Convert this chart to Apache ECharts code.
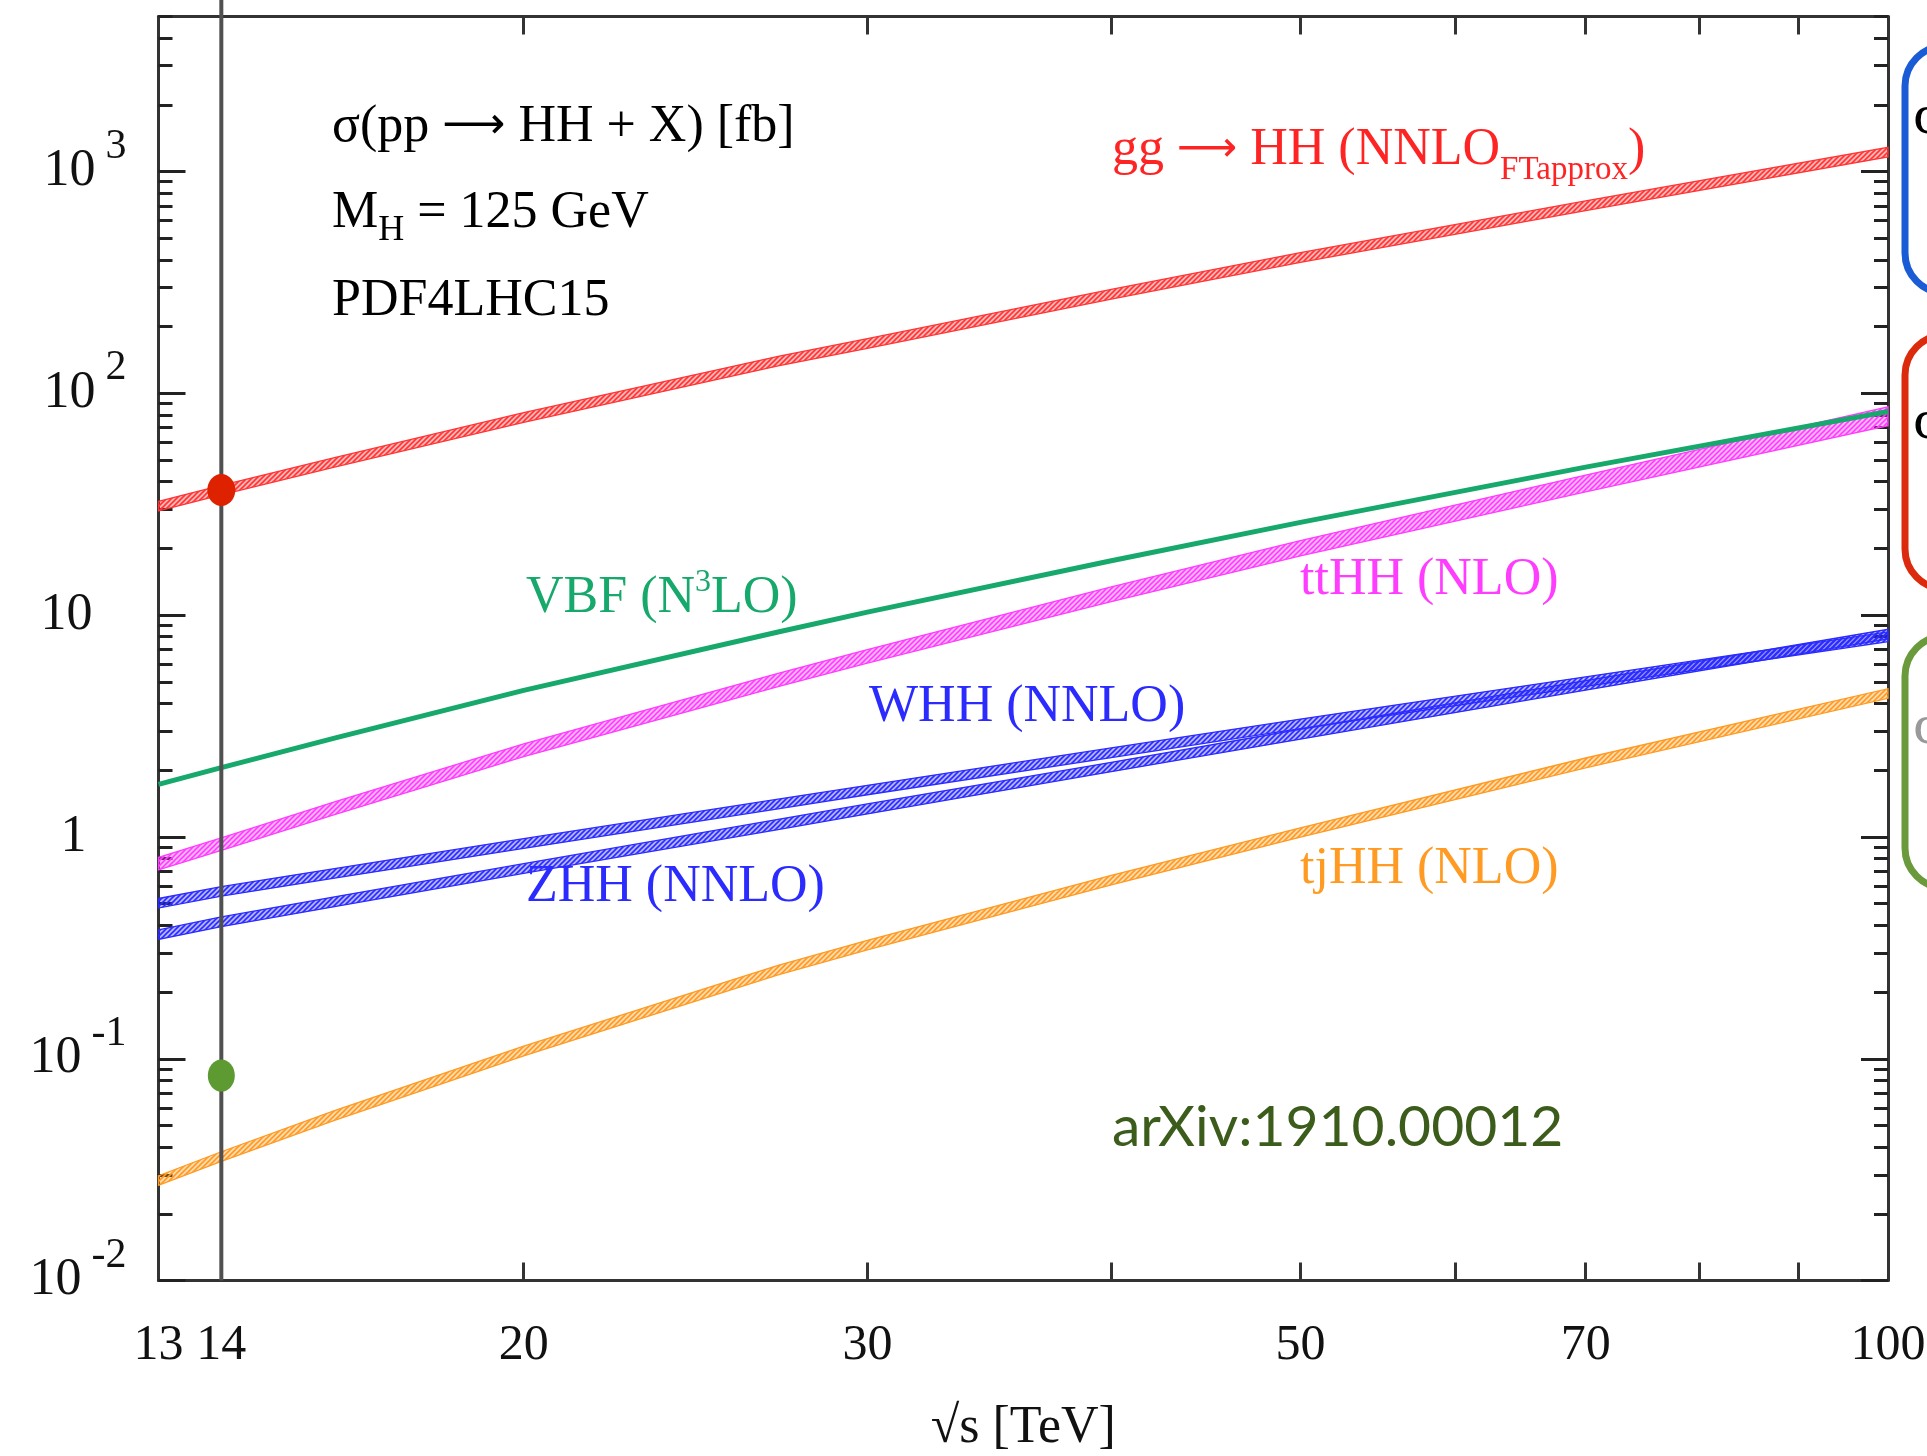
<!DOCTYPE html>
<html><head><meta charset="utf-8">
<script src="https://cdn.jsdelivr.net/npm/echarts@6/dist/echarts.min.js"></script>
<style>html,body{margin:0;padding:0;background:#fff}#c{width:1927px;height:1456px}</style>
</head><body><div id="c"></div>
<script>
// ---- data (sqrt(s) in TeV, cross sections in fb) ----
const energies = [13, 14, 16, 20, 27, 30, 40, 50, 70, 100];
const ggHH    = [31.05, 36.69, 48.9, 77.9, 139.9, 168, 280, 410, 702, 1224];
const ggHHUp  = [32.6, 38.5, 51.3, 81.8, 146.9, 176.4, 294, 430.5, 737, 1285];
const ggHHDn  = [29.5, 34.9, 46.5, 74.0, 132.9, 159.6, 266, 389.5, 667, 1163];
const vbfHH   = [1.726, 2.055, 2.79, 4.58, 8.40, 10.32, 17.6, 26.2, 46.5, 82.8];
const ttHHUp  = [0.81, 0.99, 1.44, 2.63, 5.47, 7.0, 13.4, 21.7, 42.8, 87.0];
const ttHHDn  = [0.71, 0.87, 1.26, 2.30, 4.76, 6.08, 11.5, 18.5, 36.0, 71.5];
const whhUp   = [0.528, 0.597, 0.720, 0.982, 1.48, 1.71, 2.52, 3.40, 5.27, 8.40];
const whhDn   = [0.478, 0.541, 0.652, 0.888, 1.34, 1.55, 2.28, 3.08, 4.77, 7.60];
const zhhUp   = [0.381, 0.436, 0.537, 0.758, 1.20, 1.41, 2.17, 3.06, 5.07, 8.64];
const zhhDn   = [0.345, 0.394, 0.485, 0.686, 1.08, 1.27, 1.97, 2.76, 4.59, 7.82];
const tjHHUp  = [0.0297, 0.0381, 0.0584, 0.114, 0.264, 0.342, 0.672, 1.10, 2.27, 4.66];
const tjHHDn  = [0.0269, 0.0345, 0.0528, 0.103, 0.239, 0.310, 0.608, 0.998, 2.05, 4.22];

const markedEnergy = 14;
const redPoint   = [14, 36.69];
const greenPoint = [14, 0.084];
const vLineTop   = 6000;

const xMin = 13, xMax = 100, yMin = 0.01, yMax = 5000;
const xLabelValues = [13, 14, 20, 30, 50, 70, 100];
const xTickValues  = [20, 30, 40, 50, 60, 70, 80, 90];
const yMajorValues = [0.01, 0.1, 1, 10, 100, 1000];
const yMinorValues = [0.02,0.03,0.04,0.05,0.06,0.07,0.08,0.09,
                      0.2,0.3,0.4,0.5,0.6,0.7,0.8,0.9,
                      2,3,4,5,6,7,8,9,
                      20,30,40,50,60,70,80,90,
                      200,300,400,500,600,700,800,900,
                      2000,3000,4000,5000];

// ---- styles ----
const SERIF = '"Liberation Serif", "Times New Roman", serif';
const ARROWF = '"DejaVu Sans", sans-serif';
const C_RED = '#ff3434', C_GREEN = '#17a86b', C_MAG = '#ff3dff', C_BLUE = '#2b2bff', C_ORANGE = '#ff9a22';
const AX = '#333';
const FS = 52;

function hatch(color) {
  const c = document.createElement('canvas');
  c.width = 5; c.height = 5;
  const g = c.getContext('2d');
  g.fillStyle = color; g.globalAlpha = 0.35; g.fillRect(0, 0, 5, 5);
  g.globalAlpha = 1; g.strokeStyle = color; g.lineWidth = 1.6;
  g.beginPath();
  g.moveTo(0, 5); g.lineTo(5, 0);
  g.moveTo(-2.5, 2.5); g.lineTo(2.5, -2.5);
  g.moveTo(2.5, 7.5); g.lineTo(7.5, 2.5);
  g.stroke();
  return { image: c, repeat: 'repeat' };
}

function band(name, up, dn, color) {
  const fill = hatch(color);
  return {
    type: 'custom', name, xAxisIndex: 0, yAxisIndex: 0, z: 2,
    data: [[energies[0], up[0]]],
    renderItem: (params, api) => {
      const pts = [];
      for (let i = 0; i < energies.length; i++) pts.push(api.coord([energies[i], up[i]]));
      for (let i = energies.length - 1; i >= 0; i--) pts.push(api.coord([energies[i], dn[i]]));
      return { type: 'polygon', shape: { points: pts }, style: { fill: fill, stroke: color, lineWidth: 1.3 } };
    }
  };
}

function xAx(pos, labels) {
  return {
    type: 'log', logBase: 10, min: xMin, max: xMax, position: pos,
    axisLine: { show: true, onZero: false, lineStyle: { color: AX, width: 3 } },
    axisTick: { show: true, inside: true, length: 18, customValues: xTickValues, lineStyle: { color: AX, width: 3 } },
    minorTick: { show: false }, splitLine: { show: false },
    axisLabel: labels ? {
      show: true, customValues: xLabelValues, margin: 40,
      fontFamily: SERIF, fontSize: 50, color: '#111',
      formatter: v => String(Math.round(v))
    } : { show: false },
    name: labels ? '√s [TeV]' : '', nameLocation: 'middle', nameGap: 122,
    nameTextStyle: { fontFamily: SERIF, fontSize: 52, color: '#111' }
  };
}

function yAx(pos, major, labels) {
  return {
    type: 'log', logBase: 10, min: yMin, max: yMax, position: pos,
    axisLine: { show: major, onZero: false, lineStyle: { color: AX, width: 3 } },
    axisTick: { show: true, inside: true, length: major ? 27 : 14,
      customValues: major ? yMajorValues : yMinorValues, lineStyle: { color: '#222', width: 3 } },
    minorTick: { show: false }, splitLine: { show: false },
    axisLabel: labels ? {
      show: true, customValues: yMajorValues, margin: 32,
      formatter: v => {
        const e = Math.round(Math.log10(v));
        if (e === 0) return '{b|1}{q| }';
        if (e === 1) return '{b|10}{p| }';
        return '{b|10}{e|' + e + '}';
      },
      rich: {
        b: { fontFamily: SERIF, fontSize: 52, color: '#111', lineHeight: 60 },
        e: { fontFamily: SERIF, fontSize: 42, color: '#111', padding: [0, 0, 50, 10] },
        p: { width: 34, fontSize: 10 },
        q: { width: 40, fontSize: 10 }
      }
    } : { show: false }
  };
}

function txt(x, y, text, color, size, rich, family) {
  return {
    type: 'text', x: x, y: y, z: 100,
    style: {
      text: text, fill: color, fontFamily: family || SERIF, fontSize: size || FS,
      align: 'left', verticalAlign: 'middle', rich: rich || undefined
    }
  };
}

const chart = echarts.init(document.getElementById('c'), null, { renderer: 'canvas' });
chart.setOption({
  backgroundColor: '#ffffff',
  animation: false,
  grid: { left: 158.5, right: 39, top: 16.5, bottom: 175.4, containLabel: false, outerBoundsMode: 'none' },
  xAxis: [xAx('bottom', true), xAx('top', false)],
  yAxis: [yAx('left', true, true), yAx('left', false, false), yAx('right', true, false), yAx('right', false, false)],
  series: [
    band('gg→HH', ggHHUp, ggHHDn, C_RED),
    band('ttHH', ttHHUp, ttHHDn, C_MAG),
    band('WHH', whhUp, whhDn, C_BLUE),
    band('ZHH', zhhUp, zhhDn, C_BLUE),
    band('tjHH', tjHHUp, tjHHDn, C_ORANGE),
    {
      type: 'line', name: 'VBF', xAxisIndex: 0, yAxisIndex: 0, z: 3,
      data: energies.map((e, i) => [e, vbfHH[i]]),
      symbol: 'none', lineStyle: { color: C_GREEN, width: 5 }
    },
    {
      type: 'custom', name: 'marker line', xAxisIndex: 0, yAxisIndex: 0, clip: false, z: 5,
      data: [[markedEnergy, vLineTop]],
      renderItem: (p, api) => {
        const a = api.coord([markedEnergy, vLineTop]);
        const b = api.coord([markedEnergy, yMin]);
        return { type: 'line', shape: { x1: a[0], y1: a[1], x2: b[0], y2: b[1] }, style: { stroke: '#505050', lineWidth: 4 } };
      }
    },
    {
      type: 'scatter', xAxisIndex: 0, yAxisIndex: 0, z: 6,
      data: [redPoint], symbol: 'circle', symbolSize: [28, 32],
      itemStyle: { color: '#de2200', opacity: 1 }
    },
    {
      type: 'scatter', xAxisIndex: 0, yAxisIndex: 0, z: 6,
      data: [greenPoint], symbol: 'circle', symbolSize: [27, 32],
      itemStyle: { color: '#5e9a32', opacity: 1 }
    }
  ],
  graphic: [
    txt(332, 127, '{m|σ(pp }{a|⟶}{m| HH + X) [fb]}', '#000', FS, {
      m: { fontFamily: SERIF, fontSize: FS, fill: '#000', lineHeight: 60 },
      a: { fontFamily: ARROWF, fontSize: 44, fill: '#000' }
    }),
    txt(332, 213, '{m|M}{s|H}{m| = 125 GeV}', '#000', FS, {
      m: { fontFamily: SERIF, fontSize: FS, fill: '#000', lineHeight: 60 },
      s: { fontFamily: SERIF, fontSize: 36, fill: '#000', padding: [36, 0, 0, 0] }
    }),
    txt(332, 301, 'PDF4LHC15', '#000'),
    txt(1112, 150, '{m|gg }{a|⟶}{m| HH (NNLO}{s|FTapprox}{m|)}', C_RED, FS, {
      m: { fontFamily: SERIF, fontSize: FS, fill: '#ff2424', lineHeight: 60 },
      a: { fontFamily: ARROWF, fontSize: 42, fill: '#ff2424' },
      s: { fontFamily: SERIF, fontSize: 33, fill: '#ff2424', padding: [40, 0, 0, 0] }
    }),
    txt(526, 598, '{m|VBF (N}{p|3}{m|LO)}', C_GREEN, FS, {
      m: { fontFamily: SERIF, fontSize: FS, fill: C_GREEN, lineHeight: 60 },
      p: { fontFamily: SERIF, fontSize: 32, fill: C_GREEN, padding: [0, 0, 30, 0] }
    }),
    txt(1300, 580, 'ttHH (NLO)', C_MAG),
    txt(869, 707, 'WHH (NNLO)', C_BLUE),
    txt(526, 887, 'ZHH (NNLO)', C_BLUE),
    txt(1300, 869, 'tjHH (NLO)', C_ORANGE),
    txt(1112, 1128, 'arXiv:1910.00012', '#3c5c1c', 57, null, 'Lato, "Open Sans", sans-serif'),
    { type: 'rect', z: 50, shape: { x: 1905, y: 46, width: 200, height: 247, r: 40 }, style: { fill: 'none', stroke: '#1a5bd6', lineWidth: 7 } },
    { type: 'rect', z: 50, shape: { x: 1905, y: 335, width: 200, height: 254, r: 40 }, style: { fill: 'none', stroke: '#dc2a0c', lineWidth: 7 } },
    { type: 'rect', z: 50, shape: { x: 1905, y: 636, width: 200, height: 252, r: 40 }, style: { fill: 'none', stroke: '#6a9a3c', lineWidth: 7 } },
    txt(1913, 120, 'σ', '#000', 50, null, '"DejaVu Serif", serif'),
    txt(1913, 425, 'σ', '#000', 50, null, '"DejaVu Serif", serif'),
    txt(1913, 730, 'σ', '#999', 50, null, '"DejaVu Serif", serif')
  ]
});
</script></body></html>
